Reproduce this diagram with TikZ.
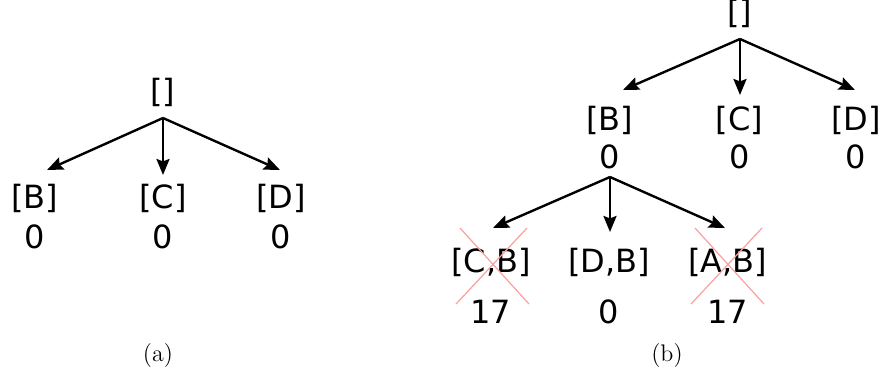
\documentclass[tikz,border=0pt]{standalone}
\usepackage{fontspec}
\newfontfamily\treefont{DejaVu Sans}
\usetikzlibrary{arrows.meta}
\definecolor{crossred}{RGB}{250,160,160}
\begin{document}
\begin{tikzpicture}[x=0.5pt,y=-0.5pt,
	lab/.style={font=\treefont\fontsize{16}{19}\selectfont,inner sep=0pt},
	captxt/.style={font=\fontsize{12}{14}\selectfont,inner sep=0pt},
	edge/.style={-{Stealth[length=8pt,width=6.5pt,inset=1.2pt]},line width=1.2pt},
	strike/.style={crossred,line width=0.6pt}]
	\useasboundingbox (0,0) rectangle (885,377);
	% (a)
	\path (163,92) node[lab] (X) {[]}
	(163,118) coordinate (fork0)
	(34.5,198) node[lab] (X1) {[B]} (34.5,237) node[lab] (X1c) {0}
	(163,198) node[lab] (X2) {[C]} (163,237) node[lab] (X2c) {0}
	(281,198) node[lab] (X3) {[D]} (281,237) node[lab] (X3c) {0}
	(47,170) coordinate (tip1) (163,175) coordinate (tip2) (280,170) coordinate (tip3);
	\draw[edge] (fork0) -- (tip1);
	\draw[edge] (fork0) -- (tip2);
	\draw[edge] (fork0) -- (tip3);
	\node[captxt] (capa) at (158,356) {(a)};
	% (b)
	\path (740,13) node[lab] (Y) {[]}
	(740,39) coordinate (fork1)
	(609.5,120) node[lab] (Y1) {[B]} (609.5,157) node[lab] (Y1c) {0}
	(739.5,120) node[lab] (Y2) {[C]} (739.5,157) node[lab] (Y2c) {0}
	(856,120) node[lab] (Y3) {[D]} (856,157) node[lab] (Y3c) {0}
	(623,90) coordinate (tip4) (740,95) coordinate (tip5) (855,90) coordinate (tip6)
	(610,177) coordinate (fork2)
	(491,262) node[lab] (Z1) {[C,B]} (490.5,312) node[lab] (Z1c) {17}
	(609,262) node[lab] (Z2) {[D,B]} (609,312) node[lab] (Z2c) {0}
	(727.5,262) node[lab] (Z3) {[A,B]} (727.5,312) node[lab] (Z3c) {17}
	(493,228) coordinate (tip7) (610,232) coordinate (tip8) (725,228) coordinate (tip9);
	\draw[edge] (fork1) -- (tip4);
	\draw[edge] (fork1) -- (tip5);
	\draw[edge] (fork1) -- (tip6);
	\draw[edge] (fork2) -- (tip7);
	\draw[edge] (fork2) -- (tip8);
	\draw[edge] (fork2) -- (tip9);
	\draw[strike] (460,228) -- (529,304) (527,228) -- (456,304);
	\draw[strike] (695,228) -- (764,304) (762,228) -- (691,304);
	\node[captxt] (capb) at (667,356) {(b)};
\end{tikzpicture}
\end{document}
